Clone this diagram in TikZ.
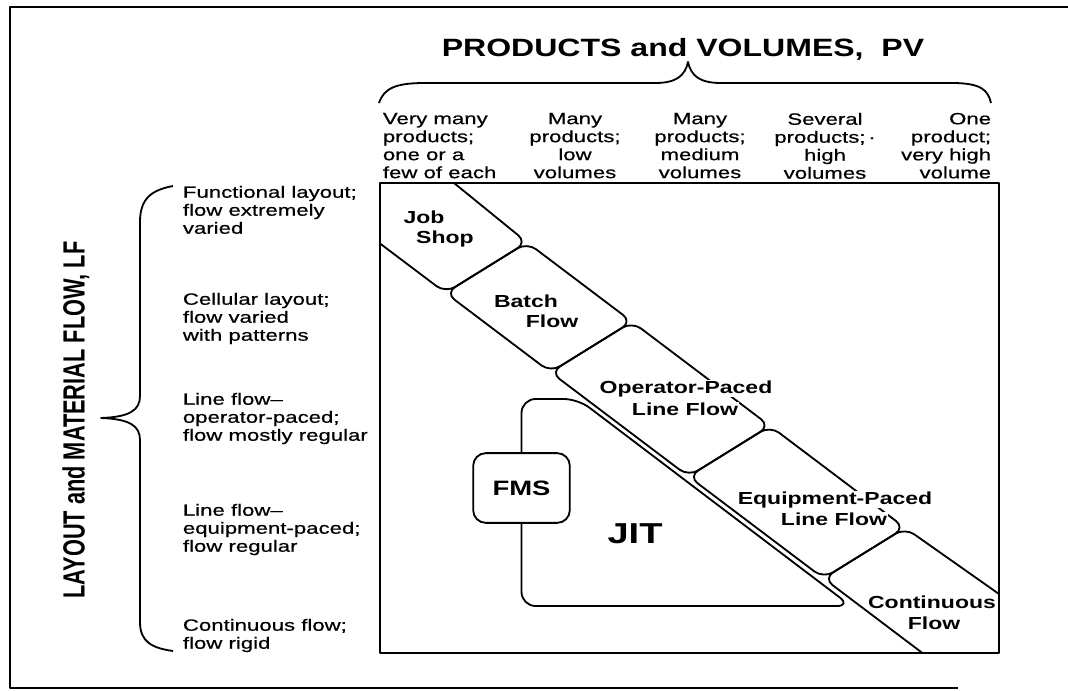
\documentclass[tikz,border=0pt]{standalone}
\usepackage{fontspec}
\setmainfont{Liberation Sans}
\newfontfamily\bodyf{Liberation Sans}[FakeStretch=1.36,FakeBold=0.6]
\newfontfamily\titlef{Liberation Sans}[FakeStretch=1.28]
\newfontfamily\vertf{Liberation Sans}[FakeStretch=0.71]
\newfontfamily\labf{Liberation Sans}[FakeStretch=1.32]
\begin{document}
\begin{tikzpicture}[x=0.025cm,y=-0.025cm,line width=1.3pt,line join=round,
  body/.style={font={\bodyf\fontsize{11.6}{12.8}\selectfont},inner sep=0pt},
  seglab/.style={font={\labf\bfseries\fontsize{12.4}{14}\selectfont},inner sep=0.6pt,anchor=base},
  segment/.style={draw,rounded corners=8pt},
  frame/.style={line width=1.6pt}]
\useasboundingbox (0,0) rectangle (1068,691);
% outer frame
\draw[frame] (1068,7) -- (10,7) -- (10,688) -- (958,688);
% title and top brace
\node[font={\titlef\bfseries\fontsize{17.8}{20}\selectfont},anchor=base,inner sep=0pt] (title) at (683,56) {PRODUCTS and VOLUMES,\ \ PV};
\draw (379,103) .. controls (384,88) and (396,83) .. (425,83) -- (655,83)
  .. controls (676,83) and (685,76) .. (688,62)
  .. controls (691,76) and (700,83) .. (721,83) -- (952,83)
  .. controls (981,83) and (988,90) .. (991,103);
% column headers
\node[body,anchor=north west,align=left] (pv1) at (382,112) {Very many\\products;\\one or a\\few of each};
\node[body,anchor=north,align=center] (pv2) at (575,112) {Many\\products;\\low\\volumes};
\node[body,anchor=north,align=center] (pv3) at (700,112) {Many\\products;\\medium\\volumes};
\node[body,anchor=north,align=center] (pv4) at (825,112) {Several\\products;\,·\\high\\volumes};
\node[body,anchor=north east,align=right] (pv5) at (992,112) {One\\product;\\very high\\volume};
% left side label and brace
\node[font={\vertf\bfseries\fontsize{21.8}{24}\selectfont},rotate=90,inner sep=0pt] (lf) at (76,420) {LAYOUT and MATERIAL FLOW, LF};
\draw (173,186) .. controls (152,190) and (140,198) .. (140,222) -- (140,396)
  .. controls (140,410) and (130,417) .. (101,418)
  .. controls (130,419) and (140,426) .. (140,440) -- (140,622)
  .. controls (140,642) and (152,648) .. (173,651);
\node[body,anchor=north west,align=left] (lf1) at (182,185) {Functional layout;\\flow extremely\\varied};
\node[body,anchor=north west,align=left] (lf2) at (182,292) {Cellular layout;\\flow varied\\with patterns};
\node[body,anchor=north west,align=left] (lf3) at (182,392) {Line flow–\\operator-paced;\\flow mostly regular};
\node[body,anchor=north west,align=left] (lf4) at (182,503) {Line flow–\\equipment-paced;\\flow regular};
\node[body,anchor=north west,align=left] (lf5) at (182,618) {Continuous flow;\\flow rigid};
% inner box
\draw (380,183) rectangle (999,653);
% diagonal band segments
\draw[segment] (454,183) -- (527,242.4) -- (445.5,292.9) -- (380,243.5);
\draw[segment] (445.5,292.9) -- (527,242.4) -- (632,321.7) -- (550.5,372.2) -- cycle;
\draw[segment] (550.5,372.2) -- (632,321.7) -- (770,425.9) -- (688.5,476.4) -- cycle;
\draw[segment] (688.5,476.4) -- (770,425.9) -- (905,527.8) -- (823.5,578.3) -- cycle;
\draw[segment] (999,594) -- (905,527.8) -- (823.5,578.3) -- (922.4,653);
% segment labels
\node[seglab] (job1) at (424,223) {Job};
\node[seglab] (job2) at (445,243) {Shop};
\node[seglab] (bat1) at (526,307) {Batch};
\node[seglab] (bat2) at (552,327) {Flow};
\node[seglab,fill=white] (op1) at (686,393) {Operator-Paced};
\node[seglab,fill=white] (op2) at (685,415) {Line Flow};
\node[seglab,fill=white] (eq1) at (835,504) {Equipment-Paced};
\node[seglab,fill=white] (eq2) at (834,525) {Line Flow};
\node[seglab] (co1) at (932,608) {Continuous};
\node[seglab] (co2) at (934,629) {Flow};
% FMS and JIT
\node[draw,rounded corners=9pt,minimum width=68.7pt,minimum height=49.6pt,inner sep=0pt,
  font={\labf\bfseries\fontsize{14.8}{16}\selectfont}] (fms) at (521.5,488) {FMS};
\draw[rounded corners=10pt] (fms.north) -- (521.5,399) -- (578,399) -- (851,606) -- (521.5,606) -- (fms.south);
\node[font={\labf\bfseries\fontsize{20.5}{22}\selectfont},anchor=base,inner sep=0pt] (jit) at (635,543) {JIT};
\end{tikzpicture}
\end{document}
